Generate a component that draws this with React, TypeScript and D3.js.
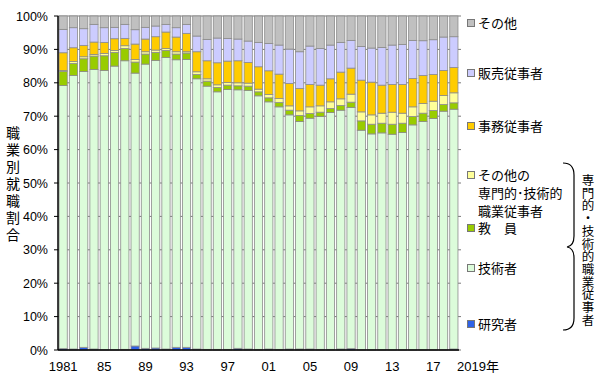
import React from "react";
import * as d3 from "d3";

const years = [
  "1981","1982","1983","1984","1985","1986","1987","1988","1989","1990",
  "1991","1992","1993","1994","1995","1996","1997","1998","1999","2000",
  "2001","2002","2003","2004","2005","2006","2007","2008","2009","2010",
  "2011","2012","2013","2014","2015","2016","2017","2018","2019",
];

// 研究者
const researcher = [0.4,0.3,0.8,0.3,0.1,0.1,0.2,1.2,0.5,0.6,0.3,0.8,0.8,0.3,0.2,0.2,0.2,0.5,0.3,0.2,0.3,0.2,0.3,0.3,0.3,0.2,0.2,0.3,0.4,0.1,0.1,0.1,0.1,0.1,0.1,0.1,0.1,0.1,0.3];
// 技術者
const technician = [78.8,81.9,82.6,83.7,83.6,84.9,86.4,81.7,85.1,86.1,87.3,86.1,86.2,80.9,78.8,77.1,77.8,77.4,77.4,75.9,74.0,72.6,70.1,68.1,69.1,69.7,70.9,71.5,72.2,65.7,64.6,64.9,64.5,65.0,67.3,68.3,69.2,71.4,71.8];
// 教員
const teacher = [4.2,3.6,3.8,4.0,4.4,4.1,3.7,3.3,3.0,2.4,2.1,1.7,1.9,1.3,1.5,1.3,1.3,1.2,1.3,1.2,1.2,1.3,1.4,1.8,1.4,1.3,1.2,1.4,1.6,2.8,2.9,2.9,3.0,2.8,2.5,2.5,2.4,2.0,1.9];
// その他の専門的・技術的職業従事者
const otherProf = [0.3,0.6,0.6,0.5,0.7,0.6,0.8,0.8,0.7,0.7,0.6,0.7,0.4,0.8,0.7,0.8,0.8,0.9,0.9,0.8,1.0,1.2,1.3,1.4,2.0,1.9,2.0,2.0,2.4,2.7,2.8,3.0,3.6,3.0,2.9,2.9,2.8,2.7,3.0];
// 事務従事者
const clerical = [5.3,4.1,3.4,3.7,3.3,3.5,2.2,4.6,3.8,4.0,4.9,4.4,5.5,6.0,5.4,6.6,6.4,6.6,6.2,6.7,7.1,7.3,6.7,6.7,6.7,6.2,6.9,8.0,7.8,9.5,9.8,8.4,8.3,8.6,8.5,8.4,8.0,7.5,7.6];
// 販売従事者
const sales = [7.0,6.0,5.0,5.3,4.4,3.4,4.2,4.3,3.5,3.2,2.3,2.8,2.7,4.7,6.4,7.4,6.8,6.5,6.4,7.3,8.2,8.7,10.3,11.0,11.5,11.0,10.1,8.9,8.3,10.1,10.2,11.3,11.8,12.0,11.4,10.4,10.4,10.0,9.2];
// その他
const other = [4.0,3.5,3.8,2.5,3.5,3.4,2.5,4.1,3.4,3.0,2.5,3.5,2.5,6.0,7.0,6.6,6.7,6.9,7.5,7.9,8.2,8.7,9.9,10.7,9.0,9.7,8.7,7.9,7.3,9.1,9.6,9.4,8.7,8.5,7.3,7.4,7.1,6.3,6.2];

const tickYears = ["1981","1985","1989","1993","1997","2001","2005","2009","2013","2017"];
const tickLabels = ["1981","85","89","93","97","01","05","09","13","17"];
const lastTickLabel = "2019年";
const yTicks = [0,10,20,30,40,50,60,70,80,90,100];

const seriesKeys = ["researcher","technician","teacher","otherProf","clerical","sales","other"];
const seriesColors = ["#2F63E8","#DCFCDA","#99CC00","#FFFF99","#FFCC00","#CCCCFF","#C0C0C0"];

const legendLabels = [["その他"],["販売従事者"],["事務従事者"],["その他の","専門的･技術的","職業従事者"],["教　員"],["技術者"],["研究者"]];
const legendSeries = ["other","sales","clerical","otherProf","teacher","technician","researcher"];

const yTitle = "職業別就職割合";
const bracketTitle = "専門的・技術的職業従事者";

const FONT = "'Liberation Sans', Arial, 'Noto Sans CJK JP', sans-serif";

export default function App() {
  const W = 600, H = 376;
  const left = 58, right = 459, top = 16, bottom = 350;

  const table = years.map((y, i) => ({
    year: y,
    researcher: researcher[i],
    technician: technician[i],
    teacher: teacher[i],
    otherProf: otherProf[i],
    clerical: clerical[i],
    sales: sales[i],
    other: other[i],
  }));

  const x = d3.scaleBand<string>().domain(years).range([left, right]).paddingInner(0.2).paddingOuter(0.1);
  const y = d3.scaleLinear().domain([0, 100]).range([bottom, top]);
  const stack = d3.stack<any>().keys(seriesKeys);
  const layers = stack(table as any);
  const colorOf = (k: string) => seriesColors[seriesKeys.indexOf(k)];

  const legendY = [23, 73, 126, 175, 228, 268, 324];

  return (
    <svg width={W} height={H} style={{ position: "absolute", left: 0, top: 0, background: "#fff" }} fontFamily={FONT}>
      <rect x={0} y={0} width={W} height={H} fill="#fff" />
      {/* gridlines */}
      {yTicks.map((t) => (
        <line key={"g" + t} x1={left} x2={right + 2} y1={y(t)} y2={y(t)} stroke="#7a7a7a" strokeWidth={1} />
      ))}
      {/* bars */}
      {layers.map((layer) => (
        <g key={layer.key} fill={colorOf(layer.key)}>
          {layer.map((d, i) => {
            const h = y(d[0]) - y(d[1]);
            if (h <= 0) return null;
            return (
              <rect
                key={i}
                x={x(years[i])}
                y={y(d[1])}
                width={x.bandwidth()}
                height={h}
                stroke="#8c8c8c"
                strokeWidth={0.8}
              />
            );
          })}
        </g>
      ))}
      {/* axes */}
      <line x1={left} x2={left} y1={top} y2={bottom} stroke="#000" strokeWidth={1.5} />
      <line x1={left} x2={right} y1={bottom} y2={bottom} stroke="#000" strokeWidth={1.5} />
      {yTicks.map((t) => (
        <g key={"yt" + t}>
          <line x1={left - 4} x2={left} y1={y(t)} y2={y(t)} stroke="#000" strokeWidth={1} />
          <text x={48} y={y(t)} dy="0.36em" textAnchor="end" fontSize={12.5} fill="#000">
            {t + "%"}
          </text>
        </g>
      ))}
      {tickYears.map((yr, i) => (
        <text key={yr} x={(x(yr) as number) + x.bandwidth() / 2} y={371} textAnchor="middle" fontSize={13} fill="#000">
          {tickLabels[i]}
        </text>
      ))}
      <text x={457} y={371} textAnchor="start" fontSize={13} fill="#000">{lastTickLabel}</text>

      {/* y title */}
      {Array.from(yTitle).map((c, i) => (
        <text key={"yl" + i} x={13} y={133 + i * 17} textAnchor="middle" dominantBaseline="central" fontSize={14} fill="#000">
          {c}
        </text>
      ))}

      {/* legend */}
      {legendLabels.map((lines, i) => (
        <g key={"lg" + i}>
          <rect x={467.5} y={legendY[i] - 3.5} width={7} height={7} fill={colorOf(legendSeries[i])} stroke="#777" strokeWidth={1} />
          {lines.map((ln, j) => (
            <text key={j} x={478} y={legendY[i] + j * 18} dominantBaseline="central" fontSize={13} fill="#000">
              {ln}
            </text>
          ))}
        </g>
      ))}

      {/* bracket */}
      <path
        d="M563,163 Q574,163 574,175 L574,236 Q574,246 567,247 Q574,248 574,258 L574,318 Q574,330 563,330"
        fill="none"
        stroke="#000"
        strokeWidth={1.2}
      />
      {Array.from(bracketTitle).map((c, i) => (
        <text key={"bt" + i} x={588} y={181 + i * 12.7} textAnchor="middle" dominantBaseline="central" fontSize={12.5} fill="#000">
          {c}
        </text>
      ))}
    </svg>
  );
}
